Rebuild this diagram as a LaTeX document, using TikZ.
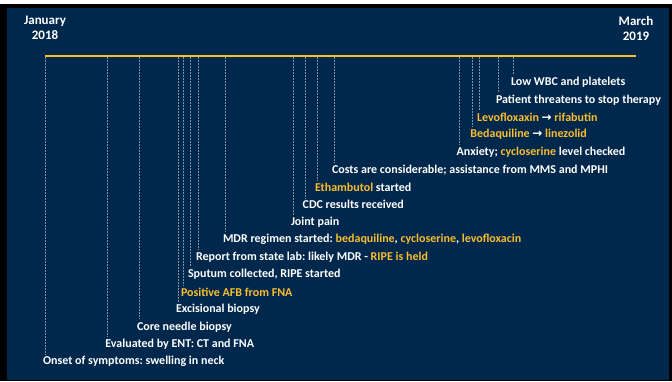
\documentclass[tikz,border=0pt]{standalone}
\usepackage{fontspec}
\setmainfont{Carlito}
\newfontfamily\flechafont{DejaVu Sans}
\usetikzlibrary{positioning}

\definecolor{marino}{RGB}{0,39,76}
\definecolor{oro}{RGB}{250,190,46}
\newcommand{\oro}[1]{\textcolor{oro}{#1}}
\newcommand{\flecha}{{\flechafont\bfseries\fontsize{12}{14}\selectfont →}}

\begin{document}
\frenchspacing
\begin{tikzpicture}[
  x=1pt, y=-1pt,
  font=\bfseries\fontsize{12}{14}\selectfont,
  fecha/.style={align=center, text=white, font=\bfseries\fontsize{13}{15}\selectfont, inner sep=0pt},
  evento/.style={anchor=west, text=white, inner sep=0pt},
  eje/.style={draw=oro, line width=2.5pt},
  marca/.style={draw=white!50!marino, line width=0.8pt, dash pattern=on 2pt off 1pt}
]
% Fondo y marco
\fill[white] (0,0) rectangle (672,381);
\fill[black] (0,4) rectangle (672,381);
\fill[marino] (7,8) rectangle (669,379.5);

% Eje temporal
\node[fecha] (ini) at (45,28) {January\\2018};
\node[fecha] (fin) at (636,28) {March\\2019};
\coordinate (a) at (45,56);
\coordinate (b) at (636,56);
\draw[eje] (a) -- (b);

% Eventos, de arriba abajo
\foreach \x/\k/\txt in {
  513.3/0/{Low WBC and platelets},
  498.3/1/{Patient threatens to stop therapy},
  479.3/2/{\oro{Levofloxaxin} \flecha{} \oro{rifabutin}},
  472.7/3/{\oro{Bedaquiline} \flecha{} \oro{linezolid}},
  459.0/4/{Anxiety; \oro{cycloserine} level checked},
  334.3/5/{Costs are considerable; assistance from MMS and MPHI},
  317.3/6/{\oro{Ethambutol} started},
  305.0/7/{CDC results received},
  293.3/8/{Joint pain},
  225.3/9/{MDR regimen started: \oro{bedaquiline}, \oro{cycloserine}, \oro{levofloxacin}},
  198.3/10/{Report from state lab: likely MDR - \oro{RIPE is held}},
  190.3/11/{Sputum collected, RIPE started},
  183.3/12/{\oro{Positive AFB from FNA}},
  178.3/13/{Excisional biopsy},
  139.3/14/{Core needle biopsy},
  107.7/15/{Evaluated by ENT: CT and FNA},
  45.3/16/{Onset of symptoms: swelling in neck}%
}{
  \coordinate (t\k) at (\x,57);
  \node[evento] (ev\k) at (\x-2.5, 82.3+17.46*\k) {\txt};
  \draw[marca] (t\k) -- ([yshift=2pt]t\k |- ev\k.north);
}
\end{tikzpicture}
\end{document}
